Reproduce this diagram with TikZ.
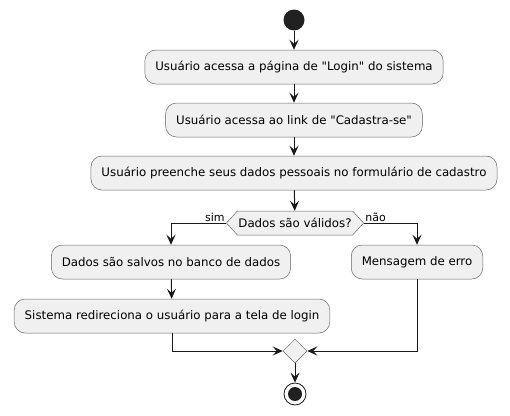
\documentclass[tikz,border=0pt]{standalone}
\usepackage{fontspec}
\setmainfont{DejaVu Sans}[Ligatures=TeXOff]
\usetikzlibrary{arrows.meta,shapes.geometric,shapes.symbols}

\begin{document}
\begin{tikzpicture}[x=1pt, y=-1pt, every node/.style={font=\fontsize{11.8}{14}\selectfont},
	>={Stealth[length=10pt, width=9pt, inset=4pt]},
	act/.style={draw=black!60, line width=0.5pt, fill=black!6, rounded corners=11pt, minimum height=34pt, inner xsep=10.5pt},
	flow/.style={->, line width=1pt, draw=black!90}]
	\useasboundingbox (0,0) rectangle (510,415);
	\node[circle, fill=black!87, minimum size=21pt, inner sep=0pt] (S) at (294,20) {};
	\node[act] (A1) at (294,67) {Usuário acessa a página de "Login" do sistema};
	\node[act] (A2) at (294,120) {Usuário acessa ao link de "Cadastra-se"};
	\node[act] (A3) at (294,173) {Usuário preenche seus dados pessoais no formulário de cadastro};
	\node[draw=black!60, line width=0.5pt, fill=black!6, shape=signal, signal to=west and east, signal pointer angle=95, minimum height=24pt, inner ysep=0pt, inner xsep=1pt] (D) at (295,223) {Dados são válidos?};
	\node[act] (B1) at (171,262) {Dados são salvos no banco de dados};
	\node[act] (C1) at (417,262) {Mensagem de erro};
	\node[act] (B2) at (172,316) {Sistema redireciona o usuário para a tela de login};
	\node[diamond, draw=black!60, line width=0.5pt, fill=black!6, minimum size=24pt, inner sep=0pt] (M) at (295,351) {};
	\node[circle, draw=black!90, line width=0.8pt, fill=white, minimum size=22pt, inner sep=0pt] (E) at (295,394) {};
	\node[circle, fill=black!87, minimum size=14pt, inner sep=0pt] (Ein) at (E) {};
	\draw[flow] (S) -- (A1);
	\draw[flow] (A1) -- (A2);
	\draw[flow] (A2) -- (A3);
	\draw[flow] (A3) -- (D);
	\draw[flow] (D.west) -| (B1.north) node[pos=0, anchor=south east, inner sep=1pt, font=\fontsize{11}{13}\selectfont] {sim};
	\draw[flow] (D.east) -| (C1.north) node[pos=0, anchor=south west, inner sep=1pt, font=\fontsize{11}{13}\selectfont] {não};
	\draw[flow] (B1) -- (B2);
	\draw[flow] (B2.south) |- (M.west);
	\draw[flow] (C1.south) |- (M.east);
	\draw[flow] (M) -- (E);
\end{tikzpicture}
\end{document}
